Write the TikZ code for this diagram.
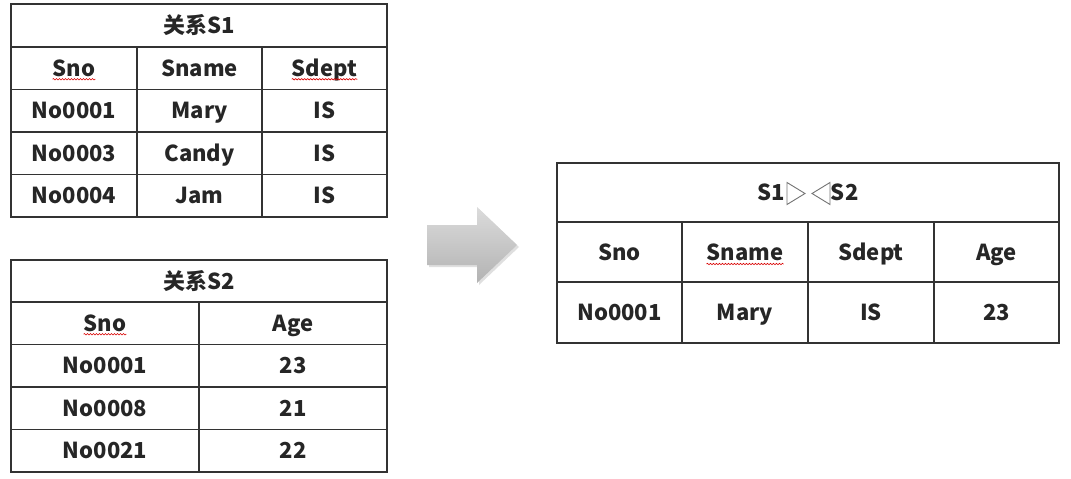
\documentclass[tikz,border=0pt]{standalone}
\usepackage{fontspec}
\setmainfont{Noto Sans CJK SC}
\usepackage{xcolor}
\usetikzlibrary{decorations.pathmorphing,shadows}
\definecolor{grid}{HTML}{333333}
\definecolor{ink}{HTML}{262626}

\begin{document}
\begin{tikzpicture}[x=1pt,y=-1pt,
		tbl/.style={draw=grid,line width=1.8pt},
		cell/.style={anchor=base,inner sep=0pt,yshift=-8pt,text=ink,font=\bfseries\fontsize{22}{24}\selectfont},
		squiggle/.style={draw=red!85!black,line width=0.6pt,decorate,decoration={snake,amplitude=0.7pt,segment length=3pt}},
		bowtie/.style={draw=black!55,line width=0.9pt,line join=miter}]
		%
		\useasboundingbox (0,0) rectangle (1071,479);
		%
		% relation S1
		\begin{scope}
			\draw [tbl] (11,4) rectangle (387,217);
			\draw [tbl] (11,47) -- (387,47) (11,89.5) -- (387,89.5) (11,132) -- (387,132) (11,174.5) -- (387,174.5);
			\draw [tbl] (137,47) -- (137,217) (262,47) -- (262,217);
			%
			\node [cell] (s1title) at (199,25.5) {关系S1};
			\foreach \a/\b/\c [count=\r] in {Sno/Sname/Sdept,No0001/Mary/IS,No0003/Candy/IS,No0004/Jam/IS} {
				\node [cell] (s1r\r a) at (74,{47+42.5*(\r-1)+21.25}) {\a};
				\node [cell] (s1r\r b) at (199.5,{47+42.5*(\r-1)+21.25}) {\b};
				\node [cell] (s1r\r c) at (324.5,{47+42.5*(\r-1)+21.25}) {\c};
			}
			\draw [squiggle] ([yshift=-3pt]s1r1a.base west) -- ([yshift=-3pt]s1r1a.base east);
			\draw [squiggle] ([yshift=-3pt]s1r1c.base west) -- ([yshift=-3pt]s1r1c.base east);
		\end{scope}
		%
		% relation S2
		\begin{scope}
			\draw [tbl] (11,260) rectangle (387,472);
			\draw [tbl] (11,302) -- (387,302) (11,344.5) -- (387,344.5) (11,387) -- (387,387) (11,429.5) -- (387,429.5);
			\draw [tbl] (199,302) -- (199,472);
			%
			\node [cell] (s2title) at (199,281) {关系S2};
			\foreach \a/\b [count=\r] in {Sno/Age,No0001/23,No0008/21,No0021/22} {
				\node [cell] (s2r\r a) at (105,{302+42.5*(\r-1)+21.25}) {\a};
				\node [cell] (s2r\r b) at (293,{302+42.5*(\r-1)+21.25}) {\b};
			}
			\draw [squiggle] ([yshift=-3pt]s2r1a.base west) -- ([yshift=-3pt]s2r1a.base east);
		\end{scope}
		%
		% arrow
		\draw [draw=none,top color=black!14,bottom color=black!30,drop shadow={opacity=0.25,shadow xshift=2pt,shadow yshift=-2pt}]
			(427,225) -- (477,225) -- (477,207) -- (517,245) -- (477,283) -- (477,265) -- (427,265) -- cycle;
		%
		% join result
		\begin{scope}
			\draw [tbl] (557,163) rectangle (1059,343);
			\draw [tbl] (557,222) -- (1059,222) (557,282) -- (1059,282);
			\draw [tbl] (682,222) -- (682,343) (808,222) -- (808,343) (934,222) -- (934,343);
			%
			\node [cell] (join) at (808,192.5) {S1\hspace{46pt}S2};
			\draw [bowtie] ([shift={(-21,-18)}]join.base) -- ([shift={(-3,-7)}]join.base) -- ([shift={(-21,4)}]join.base) -- cycle;
			\draw [bowtie] ([shift={(22,-18)}]join.base) -- ([shift={(4,-7)}]join.base) -- ([shift={(22,4)}]join.base) -- cycle;
			\foreach \a/\b/\c/\d [count=\r] in {Sno/Sname/Sdept/Age,No0001/Mary/IS/23} {
				\node [cell] (jr\r a) at (619.5,{222+60*(\r-1)+30}) {\a};
				\node [cell] (jr\r b) at (745,{222+60*(\r-1)+30}) {\b};
				\node [cell] (jr\r c) at (871,{222+60*(\r-1)+30}) {\c};
				\node [cell] (jr\r d) at (996.5,{222+60*(\r-1)+30}) {\d};
			}
			\draw [squiggle] ([yshift=-4pt]jr1b.base west) -- ([yshift=-4pt]jr1b.base east);
		\end{scope}
		%
	\end{tikzpicture}
\end{document}
